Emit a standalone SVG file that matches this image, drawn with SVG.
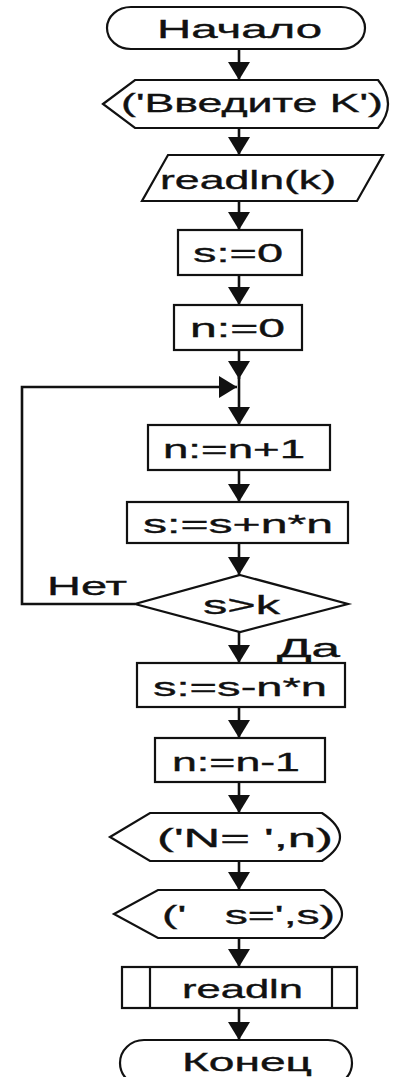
<svg xmlns="http://www.w3.org/2000/svg" width="393" height="1077" viewBox="0 0 393 1077">
<style>
.s{fill:#fff;stroke:#111;stroke-width:2.2}
.t{font-family:"Liberation Sans",Arial,sans-serif;font-size:25px;fill:#111;stroke:#111;stroke-width:0.35;text-anchor:start}
.c{fill:none;stroke:#111;stroke-width:2.6}
</style>
<defs>
<marker id="ah" markerUnits="userSpaceOnUse" markerWidth="20" markerHeight="24" refX="18" refY="12" orient="auto">
<path d="M0,1 L18,12 L0,23 Z" fill="#111"/>
</marker>
</defs>
<rect width="393" height="1077" fill="#fff"/>
<g id="connectors">
<line class="c" x1="239" y1="49" x2="239" y2="80" marker-end="url(#ah)"/>
<line class="c" x1="239" y1="128" x2="239" y2="155" marker-end="url(#ah)"/>
<line class="c" x1="239" y1="201" x2="239" y2="230" marker-end="url(#ah)"/>
<line class="c" x1="239" y1="275" x2="239" y2="305" marker-end="url(#ah)"/>
<line class="c" x1="239" y1="350" x2="239" y2="379" marker-end="url(#ah)"/>
<line class="c" x1="239" y1="377" x2="239" y2="425" marker-end="url(#ah)"/>
<line class="c" x1="239" y1="470" x2="239" y2="502" marker-end="url(#ah)"/>
<line class="c" x1="239" y1="543" x2="239" y2="575" marker-end="url(#ah)"/>
<polyline class="c" points="135,604 22,604 22,387 237,387" marker-end="url(#ah)"/>
<line class="c" x1="239" y1="632" x2="239" y2="663" marker-end="url(#ah)"/>
<line class="c" x1="239" y1="707" x2="239" y2="738" marker-end="url(#ah)"/>
<line class="c" x1="239" y1="782" x2="239" y2="813" marker-end="url(#ah)"/>
<line class="c" x1="239" y1="861" x2="239" y2="890" marker-end="url(#ah)"/>
<line class="c" x1="239" y1="938" x2="239" y2="967" marker-end="url(#ah)"/>
<line class="c" x1="239" y1="1008" x2="239" y2="1040" marker-end="url(#ah)"/>
<text class="t" x="47" y="595" textLength="80" lengthAdjust="spacingAndGlyphs">Нет</text>
<text class="t" x="277" y="657" textLength="63" lengthAdjust="spacingAndGlyphs">Да</text>
</g>
<g id="start">
<rect class="s" x="107" y="7" width="258" height="42" rx="24" ry="21"/>
<text class="t" x="157" y="38" textLength="165" lengthAdjust="spacingAndGlyphs">Начало</text>
</g>
<g id="out1">
<path class="s" d="M103,104 L135,80 L378,80 Q398,104 378,128 L135,128 Z"/>
<text class="t" x="121" y="112" textLength="262" lengthAdjust="spacingAndGlyphs">('Введите K')</text>
</g>
<g id="in1">
<path class="s" d="M168,155 L383,155 L357,201 L142,201 Z"/>
<text class="t" x="160" y="189" textLength="176" lengthAdjust="spacingAndGlyphs">readln(k)</text>
</g>
<g id="s0">
<rect class="s" x="178" y="230" width="124" height="45"/>
<text class="t" x="193" y="262" textLength="90" lengthAdjust="spacingAndGlyphs">s:=0</text>
</g>
<g id="n0">
<rect class="s" x="174" y="305" width="128" height="45"/>
<text class="t" x="190" y="337" textLength="95" lengthAdjust="spacingAndGlyphs">n:=0</text>
</g>
<g id="ninc">
<rect class="s" x="148" y="425" width="182" height="45"/>
<text class="t" x="163" y="458" textLength="142" lengthAdjust="spacingAndGlyphs">n:=n+1</text>
</g>
<g id="sadd">
<rect class="s" x="127" y="502" width="221" height="41"/>
<text class="t" x="143" y="533" textLength="190" lengthAdjust="spacingAndGlyphs">s:=s+n*n</text>
</g>
<g id="cond">
<path class="s" d="M240,575 L348,604 L240,632 L135,604 Z"/>
<text class="t" x="203" y="614" textLength="77" lengthAdjust="spacingAndGlyphs">s&gt;k</text>
</g>
<g id="ssub">
<rect class="s" x="137" y="663" width="208" height="44"/>
<text class="t" x="153" y="696" textLength="174" lengthAdjust="spacingAndGlyphs">s:=s-n*n</text>
</g>
<g id="ndec">
<rect class="s" x="155" y="738" width="170" height="44"/>
<text class="t" x="172" y="771" textLength="128" lengthAdjust="spacingAndGlyphs">n:=n-1</text>
</g>
<g id="out2">
<path class="s" d="M110,837 L150,813 L322,813 Q358,837 322,861 L150,861 Z"/>
<text class="t" x="157" y="847" textLength="176" lengthAdjust="spacingAndGlyphs">('N= ',n)</text>
</g>
<g id="out3">
<path class="s" d="M114,914 L158,890 L324,890 Q360,914 324,938 L158,938 Z"/>
<text class="t" x="162" y="924" textLength="173" lengthAdjust="spacingAndGlyphs" xml:space="preserve">('   s=',s)</text>
</g>
<g id="sub">
<rect class="s" x="122" y="967" width="235" height="41"/>
<line class="s" x1="150" y1="967" x2="150" y2="1008"/>
<line class="s" x1="332" y1="967" x2="332" y2="1008"/>
<text class="t" x="182" y="998" textLength="121" lengthAdjust="spacingAndGlyphs">readln</text>
</g>
<g id="end">
<rect class="s" x="120" y="1040" width="232" height="46" rx="24" ry="23"/>
<text class="t" x="182" y="1071" textLength="130" lengthAdjust="spacingAndGlyphs">Конец</text>
</g>
</svg>
